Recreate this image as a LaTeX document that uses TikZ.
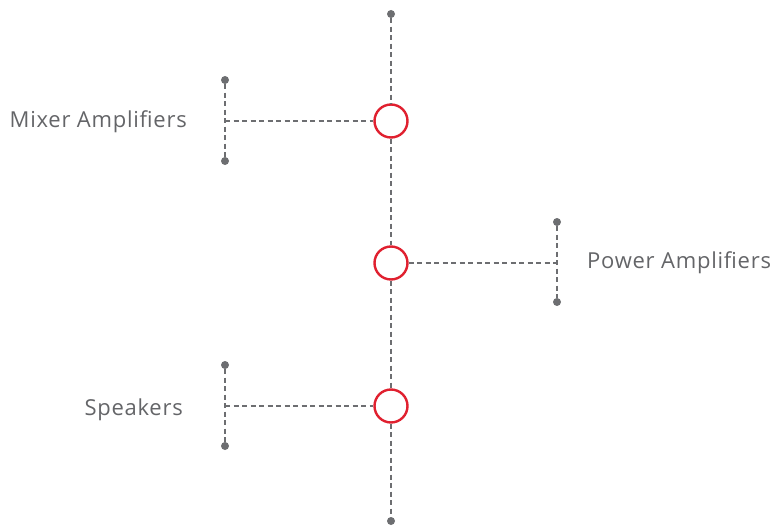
\documentclass[tikz,border=0pt]{standalone}
\usepackage{fontspec}
\setmainfont{Open Sans}[LetterSpace=3.4]
\usetikzlibrary{positioning}
\definecolor{linegray}{HTML}{6D6E71}
\definecolor{textgray}{HTML}{646568}
\definecolor{ringred}{HTML}{E0202F}
\tikzset{
  dashline/.style={draw=linegray, line width=1.7pt, dash pattern=on 5pt off 3.5pt},
  enddot/.style={circle, fill=linegray, inner sep=0pt, minimum size=8pt},
  hub/.style={circle, draw=ringred, line width=2.4pt, fill=white, inner sep=0pt, minimum size=33pt},
  label/.style={font=\fontsize{22}{26}\selectfont, text=textgray, inner sep=0pt}
}
\begin{document}
\begin{tikzpicture}[x=1pt, y=-1pt]
\useasboundingbox (0,0) rectangle (774,527);

% main spine
\node[enddot] (top) at (391,14) {};
\node[enddot] (bottom) at (391,521) {};
\node[hub] (mixhub) at (391,121) {};
\node[hub] (powhub) at (391,263) {};
\node[hub] (spkhub) at (391,406) {};
\draw[dashline] (top) -- (mixhub);
\draw[dashline] (mixhub) -- (powhub);
\draw[dashline] (powhub) -- (spkhub);
\draw[dashline] (spkhub) -- (bottom);

% Mixer Amplifiers
\node[enddot] (mixtop) at (225,80) {};
\node[enddot] (mixbot) at (225,161) {};
\coordinate (mixmid) at (225,121);
\draw[dashline] (mixtop) -- (mixbot);
\draw[dashline] (mixmid) -- (mixhub);
\node[label, anchor=base east] (mixlabel) at (187,128) {Mixer Amplifiers};

% Power Amplifiers
\node[enddot] (powtop) at (557,222) {};
\node[enddot] (powbot) at (557,302) {};
\coordinate (powmid) at (557,263);
\draw[dashline] (powtop) -- (powbot);
\draw[dashline] (powhub) -- (powmid);
\node[label, anchor=base west] (powlabel) at (587,268) {Power Amplifiers};

% Speakers
\node[enddot] (spktop) at (225,365) {};
\node[enddot] (spkbot) at (225,446) {};
\coordinate (spkmid) at (225,406);
\draw[dashline] (spktop) -- (spkbot);
\draw[dashline] (spkmid) -- (spkhub);
\node[label, anchor=base east] (spklabel) at (183,415) {Speakers};
\end{tikzpicture}
\end{document}
